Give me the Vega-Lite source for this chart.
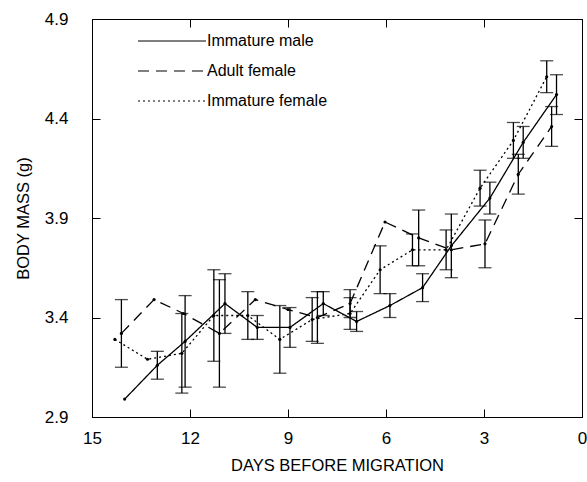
{
  "$schema": "https://vega.github.io/schema/vega-lite/v6.json",
  "width": 490,
  "height": 398,
  "autosize": {"type": "none"},
  "padding": {"left": 92, "top": 19, "right": 5, "bottom": 65},
  "background": "white",
  "config": {
    "view": {"stroke": "black", "strokeWidth": 1},
    "font": "Liberation Sans",
    "axis": {"grid": false, "domainColor": "black", "tickColor": "black", "labelColor": "black", "titleColor": "black", "titleFontWeight": "normal"}
  },
  "data": {
    "values": [
      {"group": "Immature male", "day": 14.0, "mass": 2.99, "se": 0},
      {"group": "Immature male", "day": 13.0, "mass": 3.16, "se": 0.07},
      {"group": "Immature male", "day": 12.15, "mass": 3.28, "se": 0.23},
      {"group": "Immature male", "day": 10.93, "mass": 3.47, "se": 0.15},
      {"group": "Immature male", "day": 9.94, "mass": 3.35, "se": 0.06},
      {"group": "Immature male", "day": 8.94, "mass": 3.35, "se": 0.1},
      {"group": "Immature male", "day": 7.92, "mass": 3.47, "se": 0.06},
      {"group": "Immature male", "day": 6.9, "mass": 3.38, "se": 0.05},
      {"group": "Immature male", "day": 5.88, "mass": 3.46, "se": 0.06},
      {"group": "Immature male", "day": 4.88, "mass": 3.55, "se": 0.07},
      {"group": "Immature male", "day": 4.0, "mass": 3.76, "se": 0.16},
      {"group": "Immature male", "day": 2.82, "mass": 4.0, "se": 0.08},
      {"group": "Immature male", "day": 1.8, "mass": 4.28, "se": 0.08},
      {"group": "Immature male", "day": 0.78, "mass": 4.52, "se": 0.1},
      {"group": "Adult female", "day": 14.1, "mass": 3.32, "se": 0.17},
      {"group": "Adult female", "day": 13.1, "mass": 3.49, "se": 0},
      {"group": "Adult female", "day": 12.2, "mass": 3.42, "se": 0},
      {"group": "Adult female", "day": 11.1, "mass": 3.32, "se": 0.27},
      {"group": "Adult female", "day": 10.0, "mass": 3.49, "se": 0},
      {"group": "Adult female", "day": 9.0, "mass": 3.44, "se": 0},
      {"group": "Adult female", "day": 8.1, "mass": 3.4, "se": 0.13},
      {"group": "Adult female", "day": 7.1, "mass": 3.47, "se": 0.07},
      {"group": "Adult female", "day": 6.03, "mass": 3.88, "se": 0},
      {"group": "Adult female", "day": 5.0, "mass": 3.8, "se": 0.14},
      {"group": "Adult female", "day": 4.0, "mass": 3.74, "se": 0},
      {"group": "Adult female", "day": 2.97, "mass": 3.77, "se": 0.12},
      {"group": "Adult female", "day": 1.95, "mass": 4.12, "se": 0.1},
      {"group": "Adult female", "day": 0.93, "mass": 4.36, "se": 0.1},
      {"group": "Immature female", "day": 14.3, "mass": 3.29, "se": 0},
      {"group": "Immature female", "day": 13.3, "mass": 3.19, "se": 0},
      {"group": "Immature female", "day": 12.25, "mass": 3.22, "se": 0.2},
      {"group": "Immature female", "day": 11.27, "mass": 3.41, "se": 0.23},
      {"group": "Immature female", "day": 10.23, "mass": 3.41, "se": 0.12},
      {"group": "Immature female", "day": 9.25, "mass": 3.29, "se": 0.17},
      {"group": "Immature female", "day": 8.26, "mass": 3.39, "se": 0.11},
      {"group": "Immature female", "day": 7.1, "mass": 3.42, "se": 0.08},
      {"group": "Immature female", "day": 6.18, "mass": 3.64, "se": 0.12},
      {"group": "Immature female", "day": 5.19, "mass": 3.74, "se": 0.08},
      {"group": "Immature female", "day": 4.16, "mass": 3.74, "se": 0.1},
      {"group": "Immature female", "day": 3.12, "mass": 4.05, "se": 0.09},
      {"group": "Immature female", "day": 2.1, "mass": 4.29, "se": 0.09},
      {"group": "Immature female", "day": 1.08, "mass": 4.61, "se": 0.08}
    ]
  },
  "resolve": {"axis": {"x": "independent", "y": "independent"}},
  "layer": [
    {
      "mark": {"type": "line", "color": "black", "strokeWidth": 1.3},
      "encoding": {
        "x": {
          "field": "day", "type": "quantitative",
          "scale": {"domain": [0, 15], "reverse": true, "nice": false},
          "axis": {"orient": "bottom", "values": [15, 12, 9, 6, 3, 0], "tickSize": -8, "labelPadding": 21, "labelFontSize": 17, "labelFlush": false, "title": "DAYS BEFORE MIGRATION", "titleFontSize": 16.5, "titlePadding": 11}
        },
        "y": {
          "field": "mass", "type": "quantitative",
          "scale": {"domain": [2.9, 4.9], "nice": false, "zero": false},
          "axis": {"orient": "left", "values": [2.9, 3.4, 3.9, 4.4, 4.9], "format": ".1f", "tickSize": -8, "labelPadding": 32, "labelFontSize": 17, "labelFlush": false, "title": "BODY MASS (g)", "titleFontSize": 16.5, "titlePadding": 13}
        },
        "strokeDash": {
          "field": "group", "type": "nominal",
          "scale": {"domain": ["Immature male", "Adult female", "Immature female"], "range": [[1, 0], [11, 7], [2, 3]]},
          "legend": {"orient": "none", "legendX": 45, "legendY": 14, "title": null, "symbolType": "stroke", "symbolSize": 4624, "symbolStrokeColor": "black", "symbolStrokeWidth": 1.2, "clipHeight": 16, "rowPadding": 14, "labelFontSize": 16, "labelOffset": 0, "labelColor": "black", "padding": 0}
        }
      }
    },
    {
      "mark": {"type": "circle", "color": "black", "size": 10, "opacity": 1},
      "encoding": {
        "x": {"field": "day", "type": "quantitative", "axis": {"orient": "top", "values": [15, 12, 9, 6, 3, 0], "tickSize": -8, "labels": false, "title": null}},
        "y": {"field": "mass", "type": "quantitative", "axis": {"orient": "right", "values": [2.9, 3.4, 3.9, 4.4, 4.9], "tickSize": -8, "labels": false, "title": null}}
      }
    },
    {
      "transform": [{"filter": "datum.se > 0"}],
      "mark": {"type": "errorbar", "color": "black", "thickness": 1.3, "ticks": {"size": 13, "color": "black"}},
      "encoding": {
        "x": {"field": "day", "type": "quantitative", "axis": null},
        "y": {"field": "mass", "type": "quantitative", "axis": null},
        "yError": {"field": "se"}
      }
    }
  ]
}
